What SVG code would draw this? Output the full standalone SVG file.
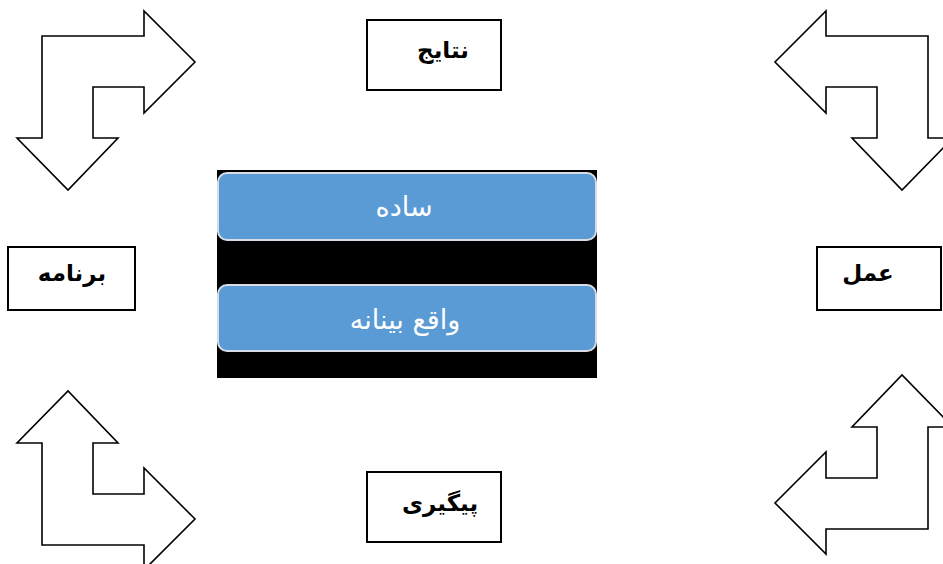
<svg xmlns="http://www.w3.org/2000/svg" width="943" height="564" viewBox="0 0 943 564">
<style>
.arrow{fill:#fff;stroke:#000;stroke-width:1.6;stroke-linejoin:miter}
.box{fill:#fff;stroke:#000;stroke-width:2}
.lbl{font-family:"DejaVu Sans","Liberation Sans",sans-serif;font-weight:bold;font-size:23px;fill:#000;text-anchor:middle}
.btn{fill:#5b9bd5;stroke:#d6dde6;stroke-width:2}
.btxt{font-family:"DejaVu Sans","Liberation Sans",sans-serif;font-size:27px;fill:#fff;text-anchor:middle}
</style>
<rect width="943" height="564" fill="#fff"/>
<g id="connectors">
<polygon class="arrow" points="42,36 144,36 144,11 195,62 144,113 144,87 93,87 93,138 118,138 68,190 17,138 42,138"/>
<polygon class="arrow" points="928,36 826,36 826,11 775,62 826,113 826,87 877,87 877,138 852,138 902,190 953,138 928,138"/>
<polygon class="arrow" points="42,545 144,545 144,570 195,519 144,468 144,494 93,494 93,443 118,443 68,391 17,443 42,443"/>
<polygon class="arrow" points="928,529 826,529 826,554 775,503 826,452 826,478 877,478 877,427 852,427 902,375 953,427 928,427"/>
</g>
<g id="node-results">
<rect class="box" x="367" y="20" width="134" height="70"/>
<text class="lbl" x="443" y="58" direction="rtl">نتایج</text>
</g>
<g id="node-program">
<rect class="box" x="8" y="247" width="127" height="63"/>
<text class="lbl" x="72" y="281" direction="rtl">برنامه</text>
</g>
<g id="node-action">
<rect class="box" x="817" y="247" width="124" height="63"/>
<text class="lbl" x="868" y="281" direction="rtl">عمل</text>
</g>
<g id="node-followup">
<rect class="box" x="367" y="472" width="134" height="70"/>
<text class="lbl" x="440" y="511" direction="rtl">پیگیری</text>
</g>
<g id="panel">
<rect x="217" y="170" width="380" height="208" fill="#000"/>
<rect class="btn" x="218" y="173" width="378" height="67" rx="9"/>
<text class="btxt" x="404" y="216" direction="rtl">ساده</text>
<rect class="btn" x="218" y="285" width="378" height="66" rx="9"/>
<text class="btxt" x="405" y="329" direction="rtl">واقع بینانه</text>
</g>
</svg>
